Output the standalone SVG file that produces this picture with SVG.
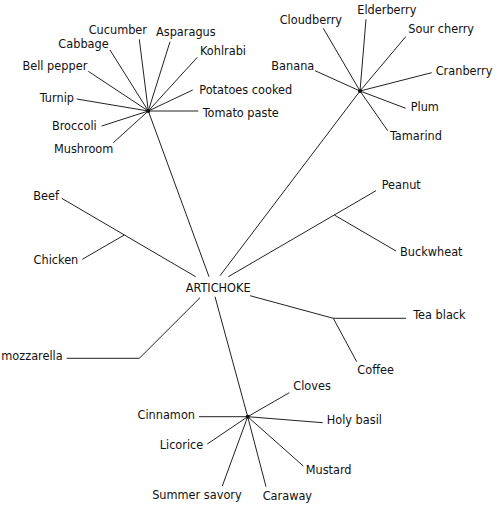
<svg xmlns="http://www.w3.org/2000/svg" width="496" height="510" viewBox="0 0 496 510">
<style>
text{font-family:"DejaVu Sans Condensed","DejaVu Sans",sans-serif;font-stretch:condensed;font-size:12.6px;fill:#111}
.e{text-anchor:end}
#connectors line,#connectors polyline{stroke:#222;stroke-width:1;fill:none}
.hub{fill:#111}
</style>
<rect width="496" height="510" fill="#fff"/>
<g id="connectors">
<line x1="148.3" y1="111" x2="139.3" y2="39.3"/>
<line x1="148.3" y1="111" x2="170" y2="41.7"/>
<line x1="148.3" y1="111" x2="110" y2="50"/>
<line x1="148.3" y1="111" x2="197.3" y2="57.3"/>
<line x1="148.3" y1="111" x2="88.3" y2="71.3"/>
<line x1="148.3" y1="111" x2="192.7" y2="90"/>
<line x1="148.3" y1="111" x2="76.7" y2="99"/>
<line x1="148.3" y1="111" x2="198.3" y2="111"/>
<line x1="148.3" y1="111" x2="101.7" y2="126"/>
<line x1="148.3" y1="111" x2="113.3" y2="142.7"/>
<line x1="148.3" y1="111" x2="209" y2="276.7"/>
<line x1="360" y1="91" x2="323.3" y2="28.3"/>
<line x1="360" y1="91" x2="366" y2="19.3"/>
<line x1="360" y1="91" x2="405.7" y2="36.7"/>
<line x1="360" y1="91" x2="315" y2="70.7"/>
<line x1="360" y1="91" x2="431.7" y2="72.7"/>
<line x1="360" y1="91" x2="405.7" y2="108.3"/>
<line x1="360" y1="91" x2="387.7" y2="130.7"/>
<line x1="360" y1="91" x2="220" y2="275.7"/>
<line x1="61.7" y1="198.3" x2="195.7" y2="276.7"/>
<line x1="82.3" y1="259.3" x2="124.3" y2="235"/>
<line x1="228.3" y1="276.7" x2="376" y2="190.7"/>
<line x1="334.3" y1="215" x2="396" y2="251"/>
<polyline points="250,295.7 333.3,318.3 406,318.3"/>
<line x1="333.3" y1="318.3" x2="356.7" y2="361.7"/>
<polyline points="66.7,358.3 139.3,358.3 200,297.7"/>
<line x1="215" y1="296.7" x2="247.7" y2="416.7"/>
<line x1="247.7" y1="416.7" x2="289.3" y2="392.7"/>
<line x1="247.7" y1="416.7" x2="199" y2="416.7"/>
<line x1="247.7" y1="416.7" x2="322.7" y2="422.7"/>
<line x1="247.7" y1="416.7" x2="207.3" y2="444"/>
<line x1="247.7" y1="416.7" x2="303.3" y2="466"/>
<line x1="247.7" y1="416.7" x2="222.3" y2="486"/>
<line x1="247.7" y1="416.7" x2="266" y2="486.7"/>
</g>
<g id="hub-vegetables"><circle class="hub" cx="148.3" cy="111" r="2"/></g>
<g id="hub-fruits"><circle class="hub" cx="360" cy="91" r="2"/></g>
<g id="hub-spices"><circle class="hub" cx="247.7" cy="416.7" r="2"/></g>
<g id="artichoke"><text x="185.7" y="291.7">ARTICHOKE</text></g>
<g id="cucumber"><text class="e" x="147" y="34">Cucumber</text></g>
<g id="asparagus"><text x="156" y="36">Asparagus</text></g>
<g id="cabbage"><text class="e" x="108.7" y="48">Cabbage</text></g>
<g id="kohlrabi"><text x="200" y="54.5">Kohlrabi</text></g>
<g id="bell-pepper"><text class="e" x="87.3" y="69.5">Bell pepper</text></g>
<g id="potatoes-cooked"><text x="199.3" y="93.5">Potatoes cooked</text></g>
<g id="turnip"><text class="e" x="74" y="102">Turnip</text></g>
<g id="tomato-paste"><text x="202.7" y="116.7">Tomato paste</text></g>
<g id="broccoli"><text class="e" x="96.7" y="129.5">Broccoli</text></g>
<g id="mushroom"><text class="e" x="113.3" y="153">Mushroom</text></g>
<g id="cloudberry"><text class="e" x="342" y="23.5">Cloudberry</text></g>
<g id="elderberry"><text x="357.3" y="14">Elderberry</text></g>
<g id="sour-cherry"><text x="408.3" y="32.5">Sour cherry</text></g>
<g id="banana"><text class="e" x="314.3" y="69.5">Banana</text></g>
<g id="cranberry"><text x="435.7" y="75">Cranberry</text></g>
<g id="plum"><text x="410.7" y="111">Plum</text></g>
<g id="tamarind"><text x="390" y="140">Tamarind</text></g>
<g id="beef"><text class="e" x="59" y="199.5">Beef</text></g>
<g id="chicken"><text class="e" x="78.3" y="263.5">Chicken</text></g>
<g id="peanut"><text x="381.7" y="189">Peanut</text></g>
<g id="buckwheat"><text x="400" y="255.7">Buckwheat</text></g>
<g id="tea-black"><text x="413.3" y="318.5">Tea black</text></g>
<g id="coffee"><text x="357.3" y="374">Coffee</text></g>
<g id="mozzarella"><text class="e" x="62.7" y="359.5">mozzarella</text></g>
<g id="cloves"><text x="293.3" y="390">Cloves</text></g>
<g id="cinnamon"><text class="e" x="195" y="418.5">Cinnamon</text></g>
<g id="holy-basil"><text x="326.7" y="424">Holy basil</text></g>
<g id="licorice"><text class="e" x="203.3" y="448.5">Licorice</text></g>
<g id="mustard"><text x="305.7" y="473.5">Mustard</text></g>
<g id="summer-savory"><text class="e" x="241.7" y="498.5">Summer savory</text></g>
<g id="caraway"><text x="262.7" y="499.5">Caraway</text></g>
</svg>
